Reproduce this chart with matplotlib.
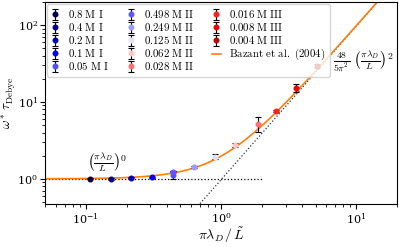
import numpy as np
import matplotlib
matplotlib.use('Agg')
import matplotlib.pyplot as plt

plt.rcParams['mathtext.fontset'] = 'cm'
plt.rcParams['font.family'] = 'serif'
plt.rcParams['font.serif'] = ['DejaVu Serif']

# data
labels = ['0.8 M I', '0.4 M I', '0.2 M I', '0.1 M I', '0.05 M I',
          '0.498 M II', '0.249 M II', '0.125 M II', '0.062 M II', '0.028 M II',
          '0.016 M III', '0.008 M III', '0.004 M III']
x_vals = [0.108, 0.154, 0.217, 0.307, 0.44,
          0.44, 0.63, 0.898, 1.27, 1.88,
          2.54, 3.57, 5.11]
y_vals = [1.0, 1.0, 1.03, 1.05, 1.13,
          1.24, 1.42, 1.95, 2.76, 5.18,
          7.6, 15.3, 29.4]
y_err = [0.02, 0.03, 0.02, 0.02, 0.13,
         0.03, 0.03, 0.14, 0.16, 1.1,
         0.3, 2.0, 1.9]
colors = ['#000050', '#000090', '#0000c0', '#0000f0', '#5050ff',
          '#5a5aff', '#9a9aff', '#e2e2ff', '#ffc4c4', '#ff7070',
          '#ff2020', '#f00000', '#c00000']

a = 48 / (5 * np.pi**2)

fig = plt.figure(figsize=(3.99, 2.47), dpi=100)
ax = fig.add_axes([0.113, 0.174, 0.882, 0.818])

for i in range(len(labels)):
    lab = r'$\mathrm{' + labels[i].replace(' ', r'\ ') + '}$'
    ax.errorbar(x_vals[i], y_vals[i], yerr=y_err[i], fmt='o', ms=3.3,
                color=colors[i], ecolor='k', elinewidth=0.8, capsize=2,
                capthick=0.8, label=lab, zorder=3)

xs = np.logspace(np.log10(0.05), np.log10(20), 300)
ax.plot(xs, 1 + a * xs**2, color='#ff7f0e', lw=1.2,
        label=r'$\mathrm{Bazant\ et\ al.\ (2004)}$', zorder=2)
ax.plot([0.05, 2], [1, 1], 'k:', lw=0.9, zorder=1)
xd = np.logspace(np.log10(0.5), np.log10(20), 50)
ax.plot(xd, a * xd**2, ':', color='#333333', lw=0.9, zorder=1)

ax.text(0.143, 1.66, r'$\left(\frac{\pi\lambda_D}{L}\right)^0$',
        ha='center', va='center', fontsize=10)
ax.text(11.2, 34, r'$\frac{48}{5\pi^2}\ \left(\frac{\pi\lambda_D}{L}\right)^2$',
        ha='center', va='center', fontsize=10)

ax.set_xscale('log')
ax.set_yscale('log')
ax.set_xlim(0.05, 20)
ax.set_ylim(0.47, 200)
ax.tick_params(labelsize=8, pad=1.5)
ax.set_xlabel(r'$\pi\lambda_D\,/\,\tilde{L}$', fontsize=10, labelpad=0)
ax.set_ylabel(r'$\omega^*\,\tau_{\mathrm{Debye}}$', fontsize=9.5)
ax.yaxis.set_label_coords(-0.078, 0.5)

h, l = ax.get_legend_handles_labels()
h = h[1:] + h[:1]
l = l[1:] + l[:1]
ax.legend(h, l, loc='upper left', ncol=3, fontsize=7.8, handlelength=0.8,
          labelspacing=0.1, columnspacing=1.6, handletextpad=0.8,
          borderaxespad=0.15, borderpad=0.4, framealpha=0.8)

plt.savefig('out.png')
